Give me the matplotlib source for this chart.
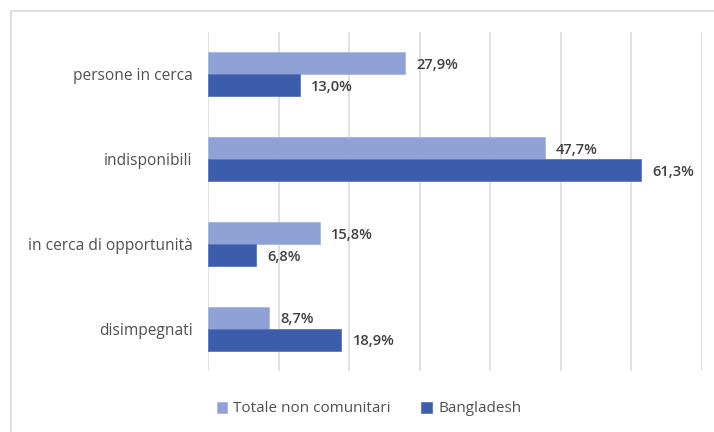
#!/usr/bin/env python3
import matplotlib
matplotlib.use("Agg")
import matplotlib.pyplot as plt
import numpy as np
from matplotlib.patches import Rectangle

# dati
categories = ["persone in cerca", "indisponibili",
              "in cerca di opportunità", "disimpegnati"]
totale = [27.9, 47.7, 15.8, 8.7]
bangladesh = [13.0, 61.3, 6.8, 18.9]
series_names = ["Totale non comunitari", "Bangladesh"]
xticks = list(range(0, 71, 10))

LIGHT = "#8FA1D5"
DARK = "#3B5DAB"
TEXT = "#505050"


def fmt(v):
    return f"{v:.1f}%".replace(".", ",")


def main() -> None:
    plt.rcParams['font.family'] = ['Open Sans', 'DejaVu Sans']
    fig = plt.figure(figsize=(7.14, 4.32), dpi=100)
    ax = fig.add_axes([208 / 714, 1 - 371 / 432, 494 / 714, 339 / 432])

    # cornice grigia dell'area del grafico
    fig.patches.append(Rectangle((11 / 714, -0.05), 1.2, 1.05 - 11 / 432,
                                 transform=fig.transFigure, fill=False,
                                 edgecolor="#D9D9D9", linewidth=1.2))

    y = np.arange(len(categories))
    h = 0.26
    ax.barh(y - h / 2, totale, height=h, color=LIGHT,
            edgecolor="#A9B8E2", linewidth=0.6, label=series_names[0], zorder=3)
    ax.barh(y + h / 2, bangladesh, height=h, color=DARK,
            edgecolor="#5A78BC", linewidth=0.6, label=series_names[1], zorder=3)

    for i in range(len(categories)):
        ax.text(totale[i] + 1.6, y[i] - h / 2 + 0.02, fmt(totale[i]),
                va="center", ha="left", fontsize=10.6, color="#404040",
                fontweight="semibold")
        ax.text(bangladesh[i] + 1.6, y[i] + h / 2 + 0.02, fmt(bangladesh[i]),
                va="center", ha="left", fontsize=10.6, color="#404040",
                fontweight="semibold")

    ax.set_xlim(0, 70)
    ax.set_ylim(len(categories) - 0.5, -0.5)
    ax.set_xticks(xticks)
    ax.set_xticklabels([])
    ax.tick_params(axis="x", length=0)
    ax.set_yticks(y)
    ax.set_yticklabels(categories, fontsize=11.2, color=TEXT)
    ax.tick_params(axis="y", length=0, pad=11)
    ax.grid(axis="x", color="#DCDCDC", linewidth=1.2, zorder=0)
    for s in ax.spines.values():
        s.set_visible(False)

    fig.legend(loc="center", bbox_to_anchor=(369 / 714, 1 - 409 / 432),
               ncol=2, frameon=False, fontsize=11, labelcolor=TEXT,
               handlelength=0.7, handleheight=0.7, handletextpad=0.4,
               columnspacing=2.0)

    fig.savefig("out.png", dpi=100)


if __name__ == "__main__":
    main()
